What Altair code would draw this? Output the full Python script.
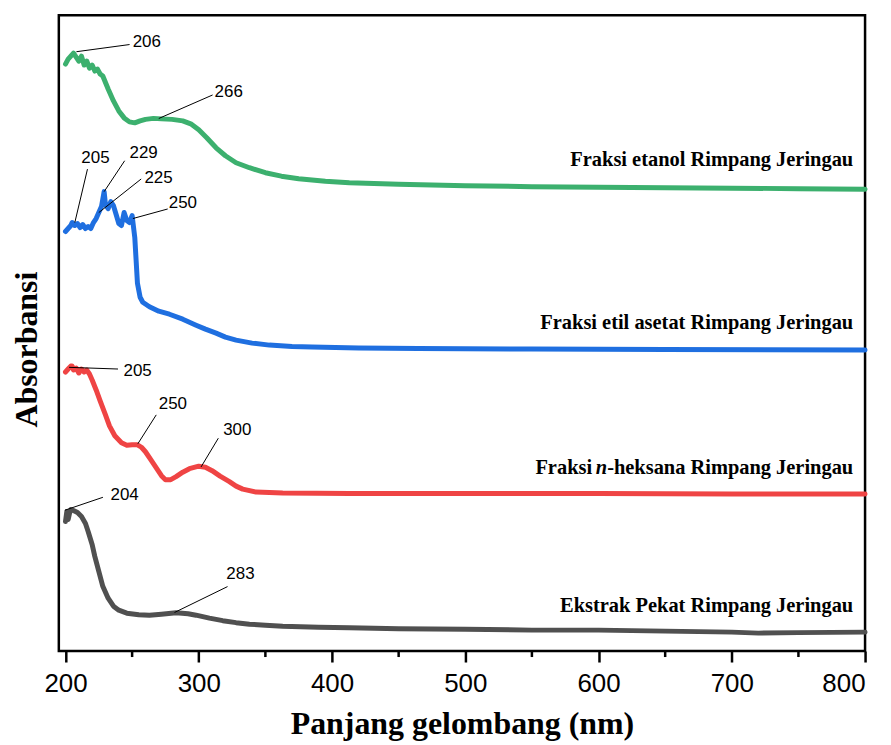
import altair as alt
import pandas as pd

# ---- data (absorbance in arbitrary stacked units) ----
series_names = [
    "Fraksi etanol Rimpang Jeringau",
    "Fraksi etil asetat Rimpang Jeringau",
    "Fraksi n-heksana Rimpang Jeringau",
    "Ekstrak Pekat Rimpang Jeringau",
]
series_colors = ["#3cb06e", "#1f6fe0", "#ef4444", "#505050"]

etanol_nm = [200, 202, 204, 206, 208, 210, 212, 214, 216, 218, 220, 222, 224, 226, 228, 232, 236, 240,
             244, 248, 252, 256, 260, 266, 272, 280, 288, 294, 300, 306, 313, 320, 328, 338, 350, 362,
             375, 395, 413, 450, 500, 550, 600, 650, 700, 750, 800]
etanol_abs = [2.945, 2.97, 2.985, 3.00, 2.98, 2.96, 2.985, 2.94, 2.96, 2.925, 2.94, 2.91, 2.92, 2.895,
              2.885, 2.82, 2.76, 2.71, 2.675, 2.655, 2.65, 2.66, 2.6675, 2.6725, 2.67, 2.6675, 2.66,
              2.645, 2.615, 2.575, 2.525, 2.485, 2.45, 2.425, 2.40, 2.3825, 2.37, 2.3575, 2.35, 2.3425,
              2.335, 2.33, 2.3275, 2.325, 2.3225, 2.32, 2.3175]

etil_nm = [200, 202, 204, 205, 207, 209, 211, 213, 215, 217, 219, 221, 223, 225, 227, 229, 230, 232,
           234, 236, 238, 240, 242, 244, 246, 248, 250, 252, 253, 254, 256, 258, 263, 270, 278, 288,
           298, 305, 313, 320, 328, 340, 353, 370, 385, 420, 465, 550, 650, 800]
etil_abs = [2.105, 2.12, 2.135, 2.15, 2.135, 2.145, 2.125, 2.14, 2.12, 2.13, 2.12, 2.15, 2.17, 2.20,
            2.23, 2.305, 2.24, 2.22, 2.255, 2.235, 2.19, 2.145, 2.135, 2.20, 2.16, 2.15, 2.185, 2.075,
            1.96, 1.845, 1.775, 1.75, 1.7275, 1.705, 1.69, 1.665, 1.635, 1.615, 1.595, 1.575, 1.56,
            1.545, 1.535, 1.5275, 1.525, 1.52, 1.5175, 1.515, 1.5125, 1.51]

heksana_nm = [200, 202, 204, 205, 206, 208, 210, 212, 214, 216, 218, 220, 223, 226, 230, 233, 237, 242,
              246, 250, 254, 257, 260, 264, 268, 272, 275, 279, 283, 288, 293, 300, 305, 310, 316, 323,
              328, 333, 343, 363, 413, 500, 600, 700, 800]
heksana_abs = [1.40, 1.415, 1.43, 1.43, 1.41, 1.42, 1.395, 1.415, 1.40, 1.41, 1.39, 1.36, 1.31, 1.255,
               1.185, 1.13, 1.08, 1.045, 1.0325, 1.035, 1.035, 1.0225, 1.00, 0.96, 0.92, 0.88, 0.86,
               0.86, 0.875, 0.8975, 0.915, 0.9275, 0.9225, 0.905, 0.8775, 0.85, 0.8275, 0.8125,
               0.7975, 0.7925, 0.79, 0.79, 0.79, 0.7875, 0.7875]

ekstrak_nm = [200, 201, 202, 203, 204, 206, 209, 212, 215, 217, 220, 222, 225, 228, 232, 236, 240, 246,
              255, 263, 272, 283, 292, 298, 308, 318, 328, 338, 350, 363, 390, 413, 450, 500, 550, 600,
              650, 700, 720, 750, 800]
ekstrak_abs = [0.65, 0.70, 0.66, 0.69, 0.71, 0.705, 0.695, 0.675, 0.64, 0.60, 0.535, 0.475, 0.40, 0.325,
               0.265, 0.225, 0.205, 0.19, 0.1825, 0.18, 0.185, 0.1925, 0.1875, 0.18, 0.165, 0.1525,
               0.1425, 0.135, 0.13, 0.125, 0.12, 0.1175, 0.1125, 0.11, 0.105, 0.105, 0.10, 0.095,
               0.09, 0.0925, 0.095]

# peak annotations: label, peak point, leader end, label centre
peak_labels = ["206", "266", "205", "229", "225", "250", "205", "250", "300", "204", "283"]
peak_x = [208.2, 270.0, 207.0, 229.0, 225.0, 250.6, 202.7, 254.3, 301.7, 199.5, 281.8]
peak_y = [3.007, 2.672, 2.15, 2.305, 2.20, 2.17, 1.4235, 1.04, 0.9235, 0.7065, 0.1935]
lead_x = [248.1, 310.4, 216.5, 244.4, 256.8, 276.7, 239.4, 268.1, 314.7, 228.1, 321.6]
lead_y = [3.043, 2.79, 2.418, 2.46, 2.3685, 2.218, 1.415, 1.185, 1.068, 0.7715, 0.3235]
text_x = [261.0, 322.5, 222.5, 258.6, 269.8, 288.1, 254.1, 280.6, 328.9, 244.4, 331.3]
text_y = [3.057, 2.805, 2.472, 2.497, 2.375, 2.25, 1.407, 1.24, 1.107, 0.785, 0.3885]

# series name labels (right edge position)
name_x = [791.1, 791.1, 791.1, 791.1]
name_y = [2.465, 1.645, 0.92, 0.225]

x_ticks = [200, 300, 400, 500, 600, 700, 800]
x_minor = [250, 350, 450, 550, 650, 750]

X_TITLE = "Panjang gelombang (nm)"
Y_TITLE = "Absorbansi"

# ---- tables ----
frames = []
for name, xs, ys in zip(series_names,
                        [etanol_nm, etil_nm, heksana_nm, ekstrak_nm],
                        [etanol_abs, etil_abs, heksana_abs, ekstrak_abs]):
    frames.append(pd.DataFrame({"series": name, "nm": xs, "abs": ys, "order": range(len(xs))}))
lines_df = pd.concat(frames, ignore_index=True)

ann_df = pd.DataFrame({"label": peak_labels, "x1": peak_x, "y1": peak_y,
                       "x2": lead_x, "y2": lead_y, "tx": text_x, "ty": text_y})
names_df = pd.DataFrame({"name": series_names, "x": name_x, "y": name_y})
plain_names = names_df[names_df["name"] != "Fraksi n-heksana Rimpang Jeringau"]
hek = names_df[names_df["name"] == "Fraksi n-heksana Rimpang Jeringau"]
minor_df = pd.DataFrame({"nm": x_minor})

W, H = 809, 638
xscale = alt.Scale(domain=[195, 800], nice=False, zero=False)
yscale = alt.Scale(domain=[0, 3.19], nice=False, zero=False)


def X(field):
    return alt.X(field, scale=xscale, title=X_TITLE)


def Y(field):
    return alt.Y(field, scale=yscale, title=Y_TITLE)


lines = alt.Chart(lines_df).mark_line(strokeWidth=5, strokeCap="round", strokeJoin="round").encode(
    x=alt.X("nm:Q", scale=xscale,
            axis=alt.Axis(values=x_ticks, title=X_TITLE, format="d")),
    y=alt.Y("abs:Q", scale=yscale,
            axis=alt.Axis(title=Y_TITLE, labels=False, ticks=False, domain=False, grid=False)),
    color=alt.Color("series:N", scale=alt.Scale(domain=series_names, range=series_colors), legend=None),
    order="order:Q",
)

leaders = alt.Chart(ann_df).mark_rule(color="black", strokeWidth=1).encode(
    x=X("x1:Q"), y=Y("y1:Q"), x2="x2:Q", y2="y2:Q",
)

peak_text = alt.Chart(ann_df).mark_text(font="Liberation Sans", fontSize=17, color="black",
                                        align="center", baseline="middle").encode(
    x=X("tx:Q"), y=Y("ty:Q"), text="label:N",
)

name_style = dict(font="Liberation Serif", fontSize=20.5, fontWeight="bold", color="black",
                  baseline="middle")
names = alt.Chart(plain_names).mark_text(align="right", **name_style).encode(
    x=X("x:Q"), y=Y("y:Q"), text="name:N",
)
hek_tail = alt.Chart(hek).transform_calculate(t="'-heksana Rimpang Jeringau'").mark_text(
    align="right", **name_style).encode(x=X("x:Q"), y=Y("y:Q"), text="t:N")
hek_n = alt.Chart(hek).transform_calculate(t="'n'").mark_text(
    align="right", dx=-247, fontStyle="italic", **name_style).encode(x=X("x:Q"), y=Y("y:Q"), text="t:N")
hek_head = alt.Chart(hek).transform_calculate(t="'Fraksi'").mark_text(
    align="right", dx=-262, **name_style).encode(x=X("x:Q"), y=Y("y:Q"), text="t:N")

minor = alt.Chart(minor_df).mark_rule(color="black", strokeWidth=2.5).encode(
    x=X("nm:Q"),
    y=alt.value(H),
    y2=alt.value(H + 6),
)

chart = alt.layer(lines, leaders, peak_text, names, hek_tail, hek_n, hek_head, minor).properties(
    width=W, height=H,
    autosize=alt.AutoSizeParams(type="none"),
    padding={"left": 51, "top": 6, "right": 18, "bottom": 93},
    background="white",
).configure_view(
    stroke="black", strokeWidth=2.5,
).configure_axisX(
    domain=False, grid=False,
    tickColor="black", tickWidth=2.5, tickSize=11,
    labelFont="Liberation Sans", labelFontSize=26, labelColor="black", labelPadding=9,
    titleFont="Liberation Serif", titleFontSize=32, titleFontWeight="bold", titleColor="black",
    titleY=83, titleBaseline="alphabetic",
).configure_axisY(
    grid=False,
    titleFont="Liberation Serif", titleFontSize=32, titleFontWeight="bold", titleColor="black",
    titleX=-22, titleY=335, titleAngle=270, titleAlign="center", titleBaseline="alphabetic",
)

chart.save("out.html", embed_options={"renderer": "svg", "actions": False})
